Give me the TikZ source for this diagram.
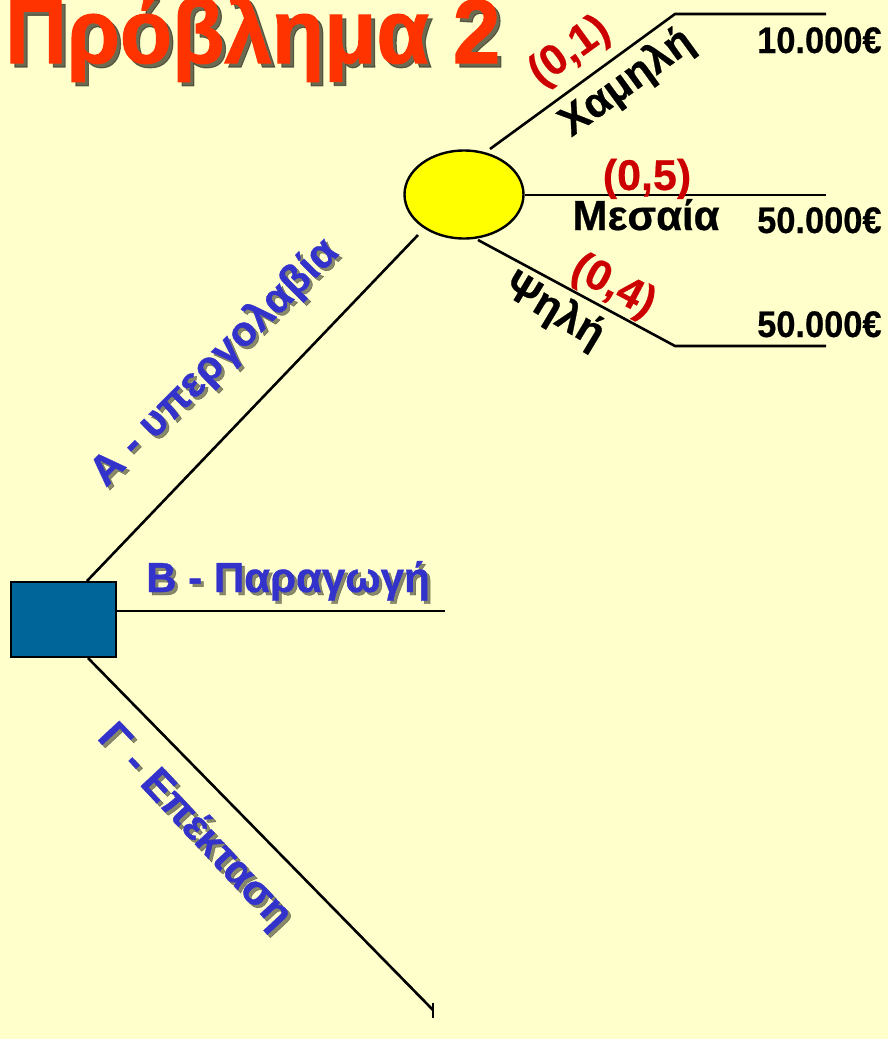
\documentclass[tikz,border=0pt]{standalone}
\usepackage{fontspec}
\usepackage{graphicx}
\setmainfont{Liberation Sans}
\usetikzlibrary{shapes.geometric}
\definecolor{bg}{HTML}{FFFFCC}
\definecolor{titlered}{HTML}{FF3300}
\definecolor{probred}{HTML}{CC0000}
\definecolor{lblue}{HTML}{3333CC}
\definecolor{decblue}{HTML}{006699}
\definecolor{chyellow}{HTML}{FFFF00}
\definecolor{shadowcol}{HTML}{3A3A2A}
\tikzset{
  branch/.style={line width=2.6pt, draw=black},
  title/.style={inner sep=0pt, font=\bfseries\fontsize{91}{96}\selectfont\addfontfeature{FakeBold=1.2}, text=titlered},
  titleshadow/.style={title, text=shadowcol, opacity=0.75},
  bluelbl/.style={inner sep=0pt, font=\bfseries\fontsize{42}{46}\selectfont\addfontfeature{FakeBold=0.8}, text=lblue},
  blueshadow/.style={bluelbl, text=shadowcol, opacity=0.6},
  problbl/.style={inner sep=0pt, font=\bfseries\fontsize{43}{48}\selectfont\addfontfeature{FakeBold=0.5}, text=probred},
  outlbl/.style={inner sep=0pt, font=\bfseries\fontsize{42}{46}\selectfont\addfontfeature{FakeBold=0.6}, text=black},
  money/.style={inner sep=0pt, font=\bfseries\fontsize{37}{40}\selectfont\addfontfeature{FakeBold=0.4}, text=black},
  decbox/.style={draw=black, line width=2.4pt, fill=decblue, minimum width=105pt, minimum height=75pt, inner sep=0pt},
  chance/.style={ellipse, draw=black, line width=2.4pt, fill=chyellow, minimum width=119pt, minimum height=88pt, inner sep=0pt}
}
\begin{document}
\begin{tikzpicture}[x=1pt,y=-1pt]
\fill[bg] (0,0) rectangle (888,1039);
\useasboundingbox (0,0) rectangle (888,1039);

% title
\node[titleshadow, anchor=base west] (titleS) at (9,67) {\scalebox{0.94}[1]{Πρόβλημα 2}};
\node[title, anchor=base west] (titleT) at (5,63) {\scalebox{0.94}[1]{Πρόβλημα 2}};

% decision and chance nodes
\node[decbox] (dec) at (63.5,619.5) {};
\node[chance] (ch) at (464,194.5) {};

% coordinates of branch ends
\coordinate (aS) at (87,581);
\coordinate (aE) at (418,235);
\coordinate (bS) at (117,611);
\coordinate (bE) at (445,611);
\coordinate (gS) at (88,658);
\coordinate (gE) at (433,1010);
\coordinate (gT1) at (433,1003);
\coordinate (gT2) at (433,1018);
\coordinate (lowS) at (490,149);
\coordinate (lowK) at (675,14);
\coordinate (lowE) at (826,14);
\coordinate (midS) at (525,195);
\coordinate (midE) at (826,195);
\coordinate (hiS) at (478,240);
\coordinate (hiK) at (675,346);
\coordinate (hiE) at (826,346);

% branches
\draw[branch] (aS) -- (aE);
\draw[branch] (bS) -- (bE);
\draw[branch] (gS) -- (gE);
\draw[line width=1.2pt] (gT1) -- (gT2);
\draw[branch] (lowS) -- (lowK) -- (lowE);
\draw[branch] (midS) -- (midE);
\draw[branch] (hiS) -- (hiK) -- (hiE);

% blue labels with shadow
\node[blueshadow, rotate=45] (aLs) at (218,366) {A - υπεργολαβία};
\node[bluelbl, rotate=45] (aL) at (215,363) {A - υπεργολαβία};
\node[blueshadow, anchor=base] (bLs) at (291,595) {B - Παραγωγή};
\node[bluelbl, anchor=base] (bL) at (288,592) {B - Παραγωγή};
\node[blueshadow, rotate=-47] (gLs) at (197,830) {Γ - Επέκταση};
\node[bluelbl, rotate=-47] (gL) at (194,827) {Γ - Επέκταση};

% probabilities
\node[problbl, rotate=36] (p1) at (570,52) {(0,1)};
\node[problbl, anchor=base] (p5) at (647,190) {(0,5)};
\node[problbl, rotate=-28] (p4) at (613,287) {(0,4)};

% outcomes
\node[outlbl, rotate=36] (oLow) at (627,83) {Χαμηλή};
\node[outlbl, anchor=base] (oMid) at (646,230) {Μεσαία};
\node[outlbl, rotate=-31] (oHi) at (554,311) {Ψηλή};

% payoffs
\node[money, anchor=base west] (v1) at (757,53) {\scalebox{0.93}[1]{10.000€}};
\node[money, anchor=base west] (v2) at (757,233) {\scalebox{0.93}[1]{50.000€}};
\node[money, anchor=base west] (v3) at (757,337) {\scalebox{0.93}[1]{50.000€}};
\end{tikzpicture}
\end{document}
